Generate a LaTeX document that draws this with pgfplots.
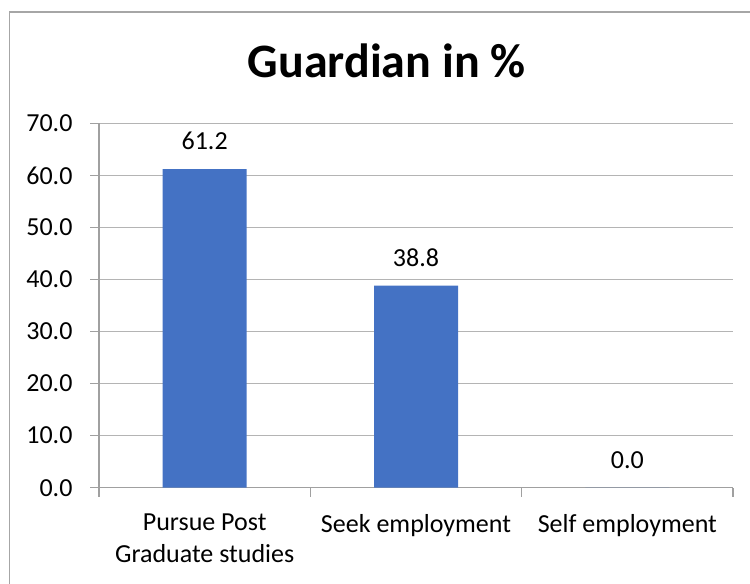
\documentclass[border=0pt]{standalone}
\usepackage{pgfplots}
\pgfplotsset{compat=1.18}
\usepackage{fontspec}
\setmainfont{Carlito}
\definecolor{barblue}{HTML}{4472C4}
\definecolor{gridgray}{HTML}{B4B4B4}
\definecolor{axisgray}{HTML}{A0A0A0}
\definecolor{bordergray}{HTML}{A6A6A6}
\begin{document}
\begin{tikzpicture}[x=1bp,y=1bp]
\path[use as bounding box] (0,0) rectangle (750,584);
\draw[color=bordergray, line width=1.4bp] (9.5,-10) -- (9.5,572) -- (760,572);
\node[anchor=base, font=\fontsize{48bp}{57bp}\selectfont\bfseries] at (386.7,506.7) {Guardian in \%};
\begin{axis}[
  at={(99bp,96.3bp)}, anchor=south west,
  scale only axis, width=634bp, height=364.4bp,
  xmin=-0.5, xmax=2.5, ymin=0, ymax=70,
  axis lines*=left,
  axis line style={color=axisgray, line width=1.3bp},
  ytick={0,10,...,70},
  ymajorgrids, grid style={color=gridgray, line width=1.3bp},
  yticklabel style={xshift=-14bp, font=\fontsize{26bp}{31.7bp}\selectfont, /pgf/number format/.cd, fixed, zerofill, precision=1, assume math mode=true},
  xtick={-0.5,0.5,1.5,2.5},
  xticklabels={},
  extra x ticks={0,1,2},
  extra x tick labels={{Pursue Post\\Graduate studies}, Seek employment, Self employment},
  extra x tick style={major tick length=0pt, grid=none, xticklabel style={yshift=-23bp, align=center, font=\fontsize{26bp}{31.7bp}\selectfont}},
  tick align=outside,
  major tick length=9bp,
  tick style={color=axisgray, line width=1.3bp},
  ybar, bar width=84bp,
  nodes near coords,
  nodes near coords style={font=\fontsize{26bp}{31.7bp}\selectfont, anchor=base, inner sep=0pt, yshift=19.5bp, /pgf/number format/.cd, fixed, zerofill, precision=1, assume math mode=true},
]
\addplot[fill=barblue, draw=none] coordinates {(0,61.2) (1,38.8) (2,0.0)};
\end{axis}
\end{tikzpicture}
\end{document}
